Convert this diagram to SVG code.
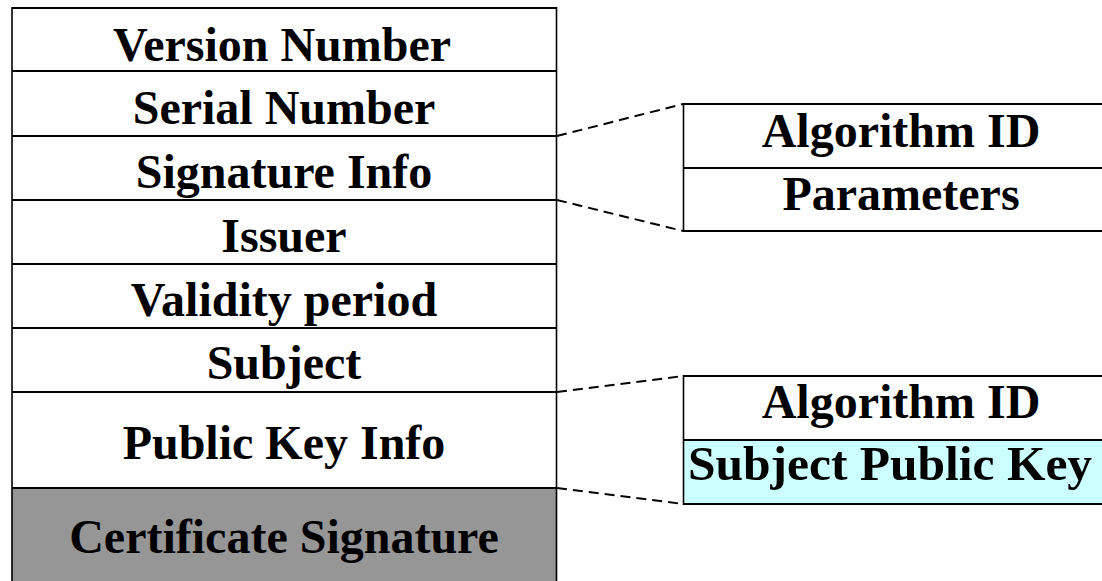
<svg xmlns="http://www.w3.org/2000/svg" width="1102" height="581" viewBox="0 0 1102 581">
  <style>
    .sig { fill: #969696; }
    .key { fill: #ccffff; }
    .hline { stroke: #000; stroke-width: 2; fill: none; }
    .vline { stroke: #000; stroke-width: 1.6; fill: none; }
    .lbl { font-family: "Liberation Serif", "Times New Roman", serif; font-weight: bold; font-size: 48px; fill: #000; text-anchor: middle; }
    .link { stroke: #000; stroke-width: 2; stroke-dasharray: 10 6; fill: none; }
  </style>
  <rect x="0" y="0" width="1102" height="581" fill="#ffffff"/>

  <!-- certificate fields -->
  <g id="version-number">
    <line class="hline" x1="12" y1="8" x2="557" y2="8"/>
    <text class="lbl" x="282" y="61">Version Number</text>
  </g>
  <g id="serial-number">
    <line class="hline" x1="12" y1="71" x2="557" y2="71"/>
    <text class="lbl" x="284" y="124">Serial Number</text>
  </g>
  <g id="signature-info">
    <line class="hline" x1="12" y1="136" x2="557" y2="136"/>
    <text class="lbl" x="284" y="188">Signature Info</text>
  </g>
  <g id="issuer">
    <line class="hline" x1="12" y1="200" x2="557" y2="200"/>
    <text class="lbl" x="284" y="252">Issuer</text>
  </g>
  <g id="validity-period">
    <line class="hline" x1="12" y1="264" x2="557" y2="264"/>
    <text class="lbl" x="284" y="316">Validity period</text>
  </g>
  <g id="subject">
    <line class="hline" x1="12" y1="328" x2="557" y2="328"/>
    <text class="lbl" x="284" y="379">Subject</text>
  </g>
  <g id="public-key-info">
    <line class="hline" x1="12" y1="392" x2="557" y2="392"/>
    <text class="lbl" x="284" y="459">Public Key Info</text>
  </g>
  <g id="certificate-signature">
    <rect class="sig" x="12" y="488" width="545" height="100"/>
    <line class="hline" x1="12" y1="488" x2="557" y2="488"/>
    <text class="lbl" x="284" y="553">Certificate Signature</text>
  </g>
  <g id="certificate-frame">
    <line class="vline" x1="12" y1="7" x2="12" y2="590"/>
    <line class="vline" x1="556.5" y1="7" x2="556.5" y2="590"/>
  </g>

  <!-- signature algorithm detail -->
  <g id="sig-algorithm-id">
    <line class="hline" x1="683" y1="104" x2="1110" y2="104"/>
    <text class="lbl" x="901" y="147">Algorithm ID</text>
  </g>
  <g id="sig-parameters">
    <line class="hline" x1="683" y1="168" x2="1110" y2="168"/>
    <line class="hline" x1="683" y1="231" x2="1110" y2="231"/>
    <text class="lbl" x="901" y="210">Parameters</text>
    <line class="vline" x1="683.5" y1="103" x2="683.5" y2="232"/>
  </g>

  <!-- public key detail -->
  <g id="key-algorithm-id">
    <line class="hline" x1="683" y1="376" x2="1110" y2="376"/>
    <text class="lbl" x="901" y="418">Algorithm ID</text>
  </g>
  <g id="subject-public-key">
    <rect class="key" x="683" y="440" width="427" height="64"/>
    <line class="hline" x1="683" y1="440" x2="1110" y2="440"/>
    <line class="hline" x1="683" y1="504" x2="1110" y2="504"/>
    <text class="lbl" x="890" y="480" style="font-size:49.5px">Subject Public Key</text>
    <line class="vline" x1="683.5" y1="375" x2="683.5" y2="505"/>
  </g>

  <!-- expansion connectors -->
  <g id="connectors">
    <line class="link" x1="557" y1="136" x2="683" y2="104"/>
    <line class="link" x1="557" y1="200" x2="683" y2="231"/>
    <line class="link" x1="557" y1="392" x2="683" y2="376"/>
    <line class="link" x1="557" y1="488" x2="683" y2="504"/>
  </g>
</svg>
